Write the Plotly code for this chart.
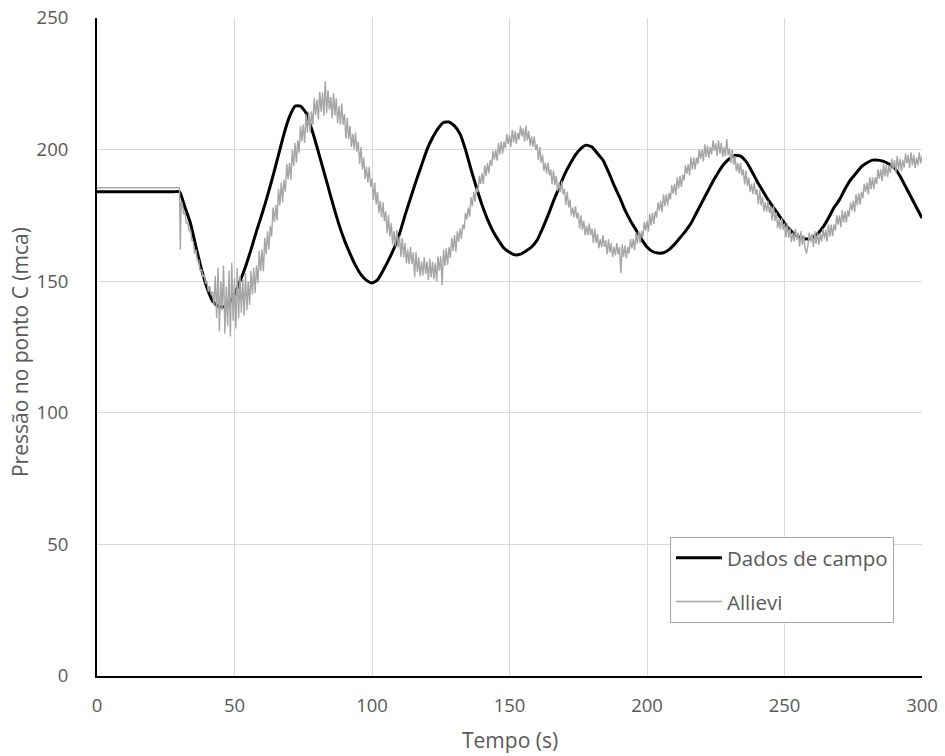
import plotly.graph_objects as go

# ---------------- data ----------------
campo_t = list(range(0, 301, 2))
campo_p = [184, 184, 184, 184, 184, 184, 184, 184, 184, 184, 184, 184, 184, 184, 184, 184,   # 0..30
           # 32..58
           178, 172, 163, 154.5, 147.5, 142.5, 140.5, 140.3, 141.5, 145, 150, 155.5, 162, 169,
           # 60..98
           175.5, 182.5, 190, 198, 206, 212.5, 216.5, 216.5, 214, 208, 201, 193.5, 186, 178.5, 171.5, 165.5, 160.5, 156, 152.5, 150.3,
           # 100..138
           149.3, 150.5, 154, 158, 162.5, 168, 175, 181.5, 188, 194, 200, 204.5, 208, 210.3, 210.5, 209, 206, 200, 192.5, 185.5,
           # 140..178
           179, 173.5, 169, 165.5, 162.5, 161, 160, 160.3, 161.5, 163, 165.5, 170, 175, 180.5, 185.5, 190.5, 194.5, 198, 200.5, 201.7,
           # 180..218
           201, 198.5, 196, 191.5, 186.5, 182, 177, 173, 169.5, 166, 163, 161.3, 160.7, 160.8, 162, 164, 166.5, 169, 172, 176,
           # 220..258
           180, 184, 188, 191.5, 194.5, 196.5, 197.8, 197.5, 195.5, 192, 188, 184.5, 181, 178, 175, 172, 169.5, 167.5, 166.5, 166,
           # 260..298
           166.5, 168, 170.5, 174, 178, 181, 185, 188.5, 191, 193.5, 195, 196, 196, 195.5, 194.5, 193, 190, 186, 182, 178,
           # 300
           174]
assert len(campo_t) == len(campo_p), (len(campo_t), len(campo_p))

allievi_head_t = [0, 29.5, 30, 30.3, 30.6]
allievi_head_p = [185.5, 185.5, 185.5, 162, 180]
allievi_step = 0.5          # sampling interval of the simulated series from t = 31 s
allievi_p = [
    179.5, 175.5, 176, 172, 172.5, 169, 169.5, 165.5, 165, 160.5,          # 31
    162, 157.8, 158, 154, 154.5, 151.5, 152.5, 149.3, 149.5, 146,          # 36
    148, 144.8, 146, 141, 152, 136, 155, 131, 150, 139,                    # 41
    156, 130, 148, 133, 154, 129, 157, 135, 151, 132,                      # 46
    155, 136, 152, 138, 151, 137, 153, 139, 150, 141,                      # 51
    154, 145, 155, 145.5, 156, 149.2, 161.5, 153.8, 162, 153.8,            # 56
    166.5, 160.2, 169, 162, 171, 167, 178, 172.5, 179, 173,                # 61
    185, 178.8, 187.5, 180, 188.5, 184, 194.5, 188.8, 195, 188.5,          # 66
    200, 193.8, 202.5, 195, 203.5, 198.8, 209, 203.2, 209.5, 202.5,        # 71
    213.5, 206.5, 214.5, 206.5, 214.5, 209.5, 219.5, 213.2, 219, 211.5,    # 76
    222, 214.4, 221.7, 212.9, 226, 213.8, 222.5, 215.2, 220, 211.8,        # 81
    221.5, 213, 219.5, 210, 216.5, 209.5, 217.5, 209.5, 213.5, 204.2,      # 86
    212, 204, 209, 201, 206, 200.2, 206.5, 199.2, 203, 194.5,              # 91
    201, 192.5, 197, 188.8, 193.5, 187.5, 193.5, 185.8, 189, 180.8,        # 96
    187.5, 179.2, 184, 175.8, 180.5, 174.2, 180, 172.8, 176.5, 168.2,      # 101
    175, 167, 172, 164, 169, 163.2, 169.5, 162.8, 167, 159.2,              # 106
    166.5, 159, 164.5, 156.8, 162, 156.5, 163, 156.5, 161, 151.5,          # 111
    161, 153.5, 159, 151.8, 157.5, 152.2, 159, 152.8, 157.5, 150.5,        # 116
    158.5, 151.5, 157.5, 150.8, 157, 150, 159.5, 154, 159.5, 148.5,        # 121
    162, 155.8, 162.5, 156.2, 163, 158.8, 166.5, 161.5, 167.5, 161.2,      # 126
    169, 165, 170, 166.2, 171.5, 169.8, 176, 173.5, 178, 174.5,            # 131
    182, 178.5, 184, 180.2, 185.5, 183.8, 190, 187, 191, 187,              # 136
    194, 190, 195, 191, 196, 193.8, 199.5, 196.2, 200, 195.8,              # 141
    202.5, 198.2, 203, 198.5, 203, 200.5, 206, 202.2, 205.5, 201,          # 146
    207.5, 202.8, 207, 202.2, 206.5, 203.8, 209, 205, 208, 203,            # 151
    209, 203.5, 207, 201.5, 205, 201, 205, 200, 202, 196,                  # 156
    201, 195, 198, 192, 195, 191, 195, 190.2, 192.5, 186.8,                # 161
    192, 186.5, 190, 184.2, 187.5, 183.8, 188, 183, 185, 179,              # 166
    184, 178, 181, 175, 178, 174.2, 178.5, 173.8, 176, 170,                # 171
    175, 169.5, 173, 167.5, 171, 167.5, 172, 167.5, 170, 164.5,            # 176
    170, 164.5, 168, 162.5, 166, 162.8, 167.5, 163, 165.5, 160.2,          # 181
    166, 160.8, 164.5, 159.2, 163, 159.8, 164.5, 160.2, 163, 153,          # 186
    164, 159.2, 163.5, 158.8, 163, 160.5, 166, 162.5, 166, 161.8,          # 191
    168.5, 164.2, 169, 164.5, 169, 166.8, 172.5, 169.2, 173, 168.8,        # 196
    175.5, 171.2, 176, 171.8, 176.5, 174.2, 180, 176.8, 180.5, 176.2,      # 201
    183, 178.5, 183, 178.8, 183.5, 181, 186.5, 183.2, 187, 182.8,          # 206
    189.5, 185.2, 190, 185.8, 190.5, 188.2, 194, 190.8, 194.5, 190.2,      # 211
    197, 192.5, 197, 192.5, 197, 194.5, 200, 196.5, 200, 195.5,            # 216
    202, 197.2, 201.5, 196.8, 201, 198.2, 203.5, 199.5, 202.5, 197.5,      # 221
    203.5, 198.5, 202.5, 197.2, 201, 197.5, 204, 197.8, 200.5, 194.8,      # 226
    200, 194.2, 197.5, 191.8, 195, 191, 195, 190.2, 192.5, 186.8,          # 231
    192, 186.2, 189.5, 183.8, 187, 183.2, 187.5, 182.8, 185, 179.2,        # 236
    184.5, 178.8, 182, 176.5, 180, 176.2, 180.5, 176, 178.5, 173,          # 241
    178.5, 172.8, 176, 170.2, 173.5, 169.8, 174, 169.5, 172, 166.5,        # 246
    172, 166.5, 170, 164.8, 168.5, 165.2, 170, 165.8, 168.5, 163.2,        # 251
    169, 163.8, 167.5, 162.5, 160.5, 163.5, 168.5, 164.8, 168, 163,        # 256
    169, 164.2, 168.5, 163.8, 168, 165, 170, 166.2, 169.5, 165,            # 261
    171.5, 167, 171.5, 167, 171.5, 169.2, 175, 171.5, 175, 170.5,          # 266
    177, 172.2, 176.5, 172.2, 177, 174.5, 180, 176.8, 180.5, 176.2,        # 271
    183, 178.8, 183.5, 179.2, 184, 181.5, 187, 183.8, 187.5, 183,          # 276
    189.5, 185, 189.5, 185, 189.5, 187, 192.5, 189, 192.5, 188,            # 281
    194.5, 189.8, 194, 189.5, 194, 191.2, 196.5, 192.8, 196, 191.2,        # 286
    197.5, 192.5, 196.5, 191.8, 196, 193.2, 198.5, 194.8, 198, 193,        # 291
    199, 194, 198, 193, 197, 194, 199, 194.8, 197.5,                       # 296..300
]
allievi_t = allievi_head_t + [31 + allievi_step * i for i in range(len(allievi_p))]
allievi_all = allievi_head_p + allievi_p
assert abs(allievi_t[-1] - 300) < 1e-9, allievi_t[-1]

x_ticks = [0, 50, 100, 150, 200, 250, 300]
y_ticks = [0, 50, 100, 150, 200, 250]
x_title = "Tempo (s)"
y_title = "Pressão no ponto C (mca)"

FONT = "Open Sans"
GRAY_TXT = "#595959"

fig = go.Figure()
fig.add_trace(go.Scatter(x=campo_t, y=campo_p, mode="lines", name="Dados de campo",
                         line=dict(color="#000000", width=3, shape="spline", smoothing=0.5),
                         legendgroup="a"))
fig.add_trace(go.Scatter(x=allievi_t, y=allievi_all, mode="lines", name="Allievi",
                         line=dict(color="#a6a6a6", width=1.4),
                         legendgroup="b"))

fig.update_layout(
    width=945, height=756,
    margin=dict(l=97, r=23, t=18, b=80, autoexpand=False),
    paper_bgcolor="white", plot_bgcolor="white",
    font=dict(family=FONT, color=GRAY_TXT, size=16),
    legend=dict(x=0.6945, y=0.2112, xanchor="left", yanchor="top",
                bgcolor="white", bordercolor="#a6a6a6", borderwidth=1,
                font=dict(size=20.5, color=GRAY_TXT, family=FONT),
                itemwidth=46,
                traceorder="grouped", tracegroupgap=14),
    xaxis=dict(range=[0, 300], tickvals=x_ticks, showgrid=True, gridcolor="#d9d9d9",
               gridwidth=1, showline=True, linecolor="#000000", linewidth=2,
               zeroline=False, ticks="", tickfont=dict(size=18.5, color=GRAY_TXT),
               ticklabelstandoff=12, automargin=False),
    yaxis=dict(range=[0, 250], tickvals=y_ticks, showgrid=True, gridcolor="#d9d9d9",
               gridwidth=1, showline=True, linecolor="#000000", linewidth=2,
               zeroline=False, ticks="", tickfont=dict(size=18.5, color=GRAY_TXT),
               ticklabelstandoff=23, automargin=False),
    annotations=[
        dict(text=y_title, textangle=-90, xref="paper", yref="paper",
             x=-0.0933, y=0.4924, xanchor="center", yanchor="middle",
             showarrow=False, font=dict(size=21, color=GRAY_TXT, family=FONT)),
        dict(text=x_title, xref="paper", yref="paper",
             x=0.5, y=-0.0973, xanchor="center", yanchor="middle",
             showarrow=False, font=dict(size=21, color=GRAY_TXT, family=FONT)),
    ],
)

fig.write_html("out.html")
